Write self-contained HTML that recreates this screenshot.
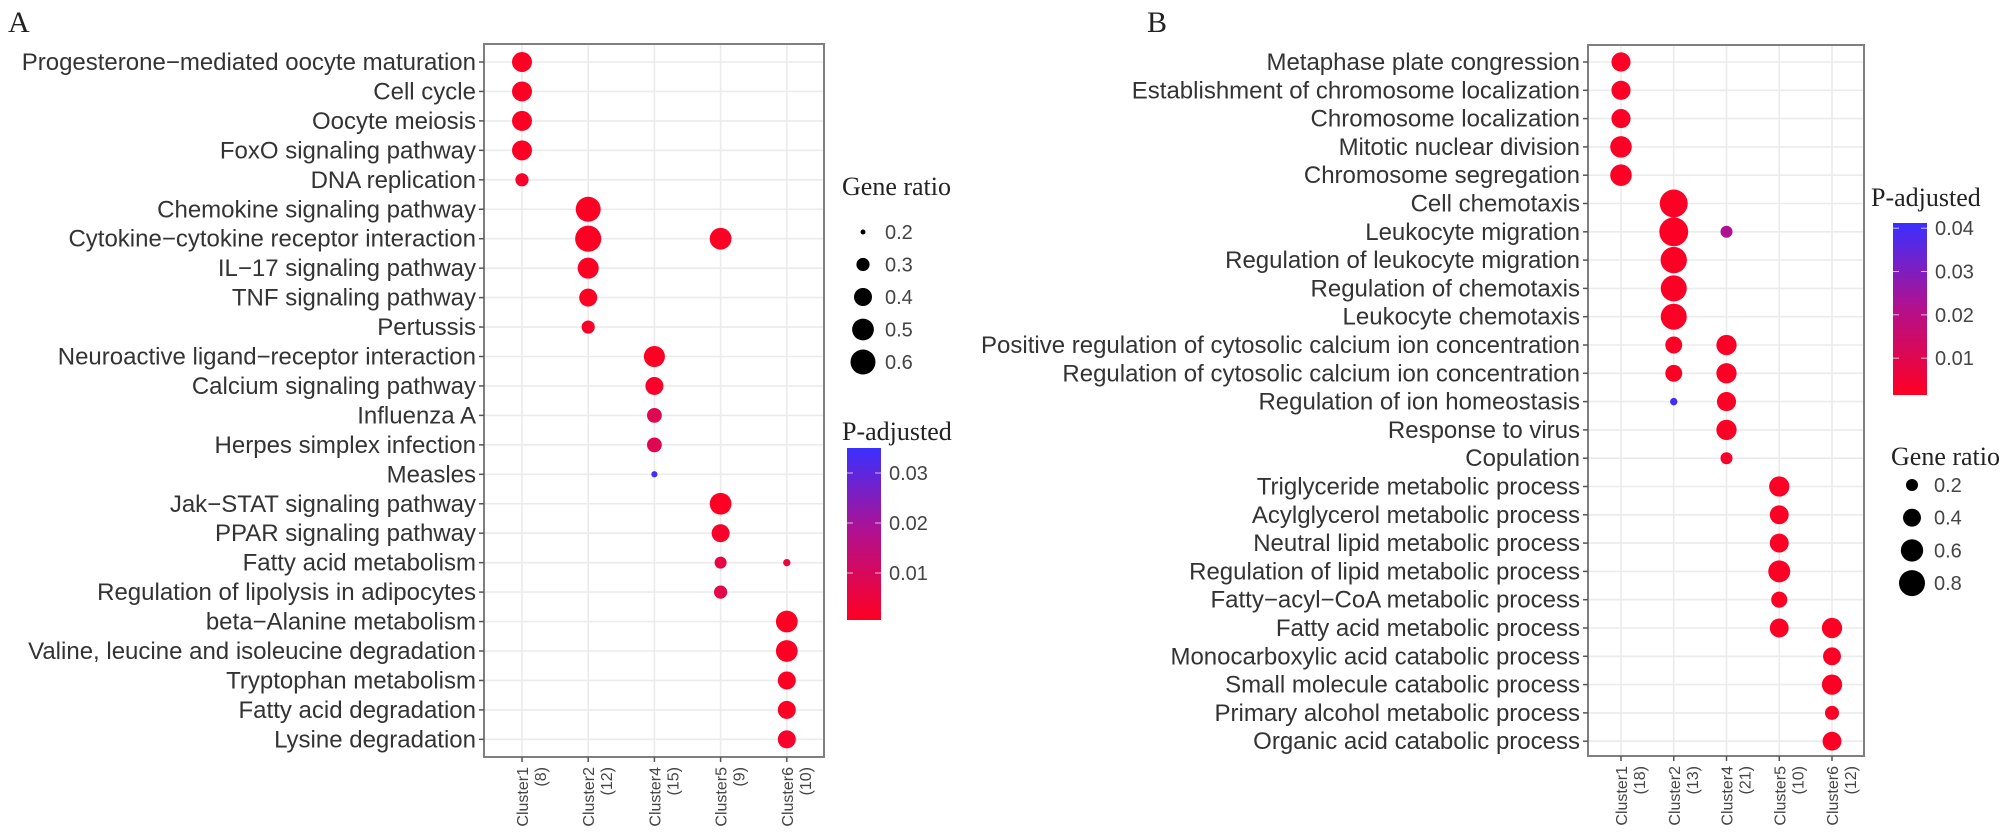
<!DOCTYPE html>
<html><head><meta charset="utf-8"><style>
html,body{margin:0;padding:0;background:#fff;}
svg{display:block;}
</style></head><body>
<svg id="chart" width="2008" height="839" xmlns="http://www.w3.org/2000/svg" font-family="Liberation Sans, sans-serif">
<rect width="2008" height="839" fill="#fff"/>
<text x="8" y="32" font-family="Liberation Serif, serif" font-size="30" fill="#222">A</text>
<text x="1147" y="32" font-family="Liberation Serif, serif" font-size="30" fill="#222">B</text>
<defs>
<linearGradient id="cbA" x1="0" y1="1" x2="0" y2="0"><stop offset="0" stop-color="#ff0022"/><stop offset="0.5" stop-color="#b4108c"/><stop offset="1" stop-color="#3a30ff"/></linearGradient>
<linearGradient id="cbB" x1="0" y1="1" x2="0" y2="0"><stop offset="0" stop-color="#ff0022"/><stop offset="0.5" stop-color="#b4108c"/><stop offset="1" stop-color="#3a30ff"/></linearGradient>
</defs>
</svg>
<script>
// ---- Panel A data ----
const aTerms = ["Progesterone−mediated oocyte maturation","Cell cycle","Oocyte meiosis","FoxO signaling pathway","DNA replication","Chemokine signaling pathway","Cytokine−cytokine receptor interaction","IL−17 signaling pathway","TNF signaling pathway","Pertussis","Neuroactive ligand−receptor interaction","Calcium signaling pathway","Influenza A","Herpes simplex infection","Measles","Jak−STAT signaling pathway","PPAR signaling pathway","Fatty acid metabolism","Regulation of lipolysis in adipocytes","beta−Alanine metabolism","Valine, leucine and isoleucine degradation","Tryptophan metabolism","Fatty acid degradation","Lysine degradation"];
const aClusters = ["Cluster1","Cluster2","Cluster4","Cluster5","Cluster6"];
const aCounts = ["(8)","(12)","(15)","(9)","(10)"];
const aPtTerm = [0,1,2,3,4,5,6,6,7,8,9,10,11,12,13,14,15,16,17,17,18,19,20,21,22,23];
const aPtCluster = [0,0,0,0,0,1,1,3,1,1,1,2,2,2,2,2,3,3,3,4,3,4,4,4,4,4];
const aRatio = [0.45,0.45,0.45,0.45,0.3,0.6,0.64,0.5,0.48,0.4,0.3,0.48,0.4,0.33,0.33,0.21,0.5,0.4,0.28,0.22,0.3,0.5,0.5,0.4,0.4,0.4];
const aPadj = [0.001,0.001,0.001,0.001,0.002,0.001,0.001,0.001,0.001,0.001,0.002,0.001,0.002,0.008,0.008,0.034,0.001,0.002,0.006,0.005,0.007,0.001,0.001,0.001,0.001,0.002];
const aSizeBreaks = [0.2,0.3,0.4,0.5,0.6];
const aColorTicks = [0.01,0.02,0.03];
// ---- Panel B data ----
const bTerms = ["Metaphase plate congression","Establishment of chromosome localization","Chromosome localization","Mitotic nuclear division","Chromosome segregation","Cell chemotaxis","Leukocyte migration","Regulation of leukocyte migration","Regulation of chemotaxis","Leukocyte chemotaxis","Positive regulation of cytosolic calcium ion concentration","Regulation of cytosolic calcium ion concentration","Regulation of ion homeostasis","Response to virus","Copulation","Triglyceride metabolic process","Acylglycerol metabolic process","Neutral lipid metabolic process","Regulation of lipid metabolic process","Fatty−acyl−CoA metabolic process","Fatty acid metabolic process","Monocarboxylic acid catabolic process","Small molecule catabolic process","Primary alcohol metabolic process","Organic acid catabolic process"];
const bClusters = ["Cluster1","Cluster2","Cluster4","Cluster5","Cluster6"];
const bCounts = ["(18)","(13)","(21)","(10)","(12)"];
const bPtTerm = [0,1,2,3,4,5,6,6,7,8,9,10,10,11,11,12,12,13,14,15,16,17,18,19,20,20,21,22,23,24];
const bPtCluster = [0,0,0,0,0,1,1,2,1,1,1,1,2,1,2,1,2,2,2,3,3,3,3,3,3,4,4,4,4,4];
const bRatio = [0.45,0.45,0.45,0.56,0.56,0.92,0.98,0.2,0.82,0.8,0.8,0.36,0.5,0.36,0.5,0.1,0.45,0.5,0.2,0.5,0.44,0.44,0.58,0.33,0.44,0.5,0.4,0.5,0.26,0.44];
const bPadj = [0.002,0.002,0.002,0.002,0.002,0.002,0.002,0.022,0.002,0.002,0.002,0.002,0.002,0.002,0.002,0.04,0.002,0.002,0.003,0.002,0.002,0.002,0.002,0.002,0.002,0.002,0.002,0.002,0.002,0.002];
const bSizeBreaks = [0.2,0.4,0.6,0.8];
const bColorTicks = [0.01,0.02,0.03,0.04];

const NS = "http://www.w3.org/2000/svg";
const svg = document.getElementById('chart');
function mk(tag, attrs, parent){ const e=document.createElementNS(NS,tag); for(const k in attrs) e.setAttribute(k,attrs[k]); (parent||svg).appendChild(e); return e; }
function hex(c){return [parseInt(c.slice(1,3),16),parseInt(c.slice(3,5),16),parseInt(c.slice(5,7),16)];}
function colorAt(t){
  t=Math.max(0,Math.min(1,t));
  const stops=[[0,'#ff0022'],[0.5,'#b4108c'],[1,'#3a30ff']];
  let i=t<=0.5?0:1; const a=stops[i],b=stops[i+1]; const u=(t-a[0])/(b[0]-a[0]);
  const A=hex(a[1]),B=hex(b[1]);
  return 'rgb('+A.map((v,k)=>Math.round(v+(B[k]-v)*u)).join(',')+')';
}

function panel(cfg){
  const {terms,clusters,counts,ptTerm,ptCluster,ratio,padj,left,right,top,bottom,row0,rowStep,col0,colStep,rScale,pScale,prefix}=cfg;
  const yPos = i => row0 + i*rowStep;
  const xPos = j => col0 + j*colStep;
  const g = mk('g',{});
  
  
  mk('rect',{x:left,y:top,width:right-left,height:bottom-top,fill:'#fff'},g);
  terms.forEach((t,i)=>{
    const l=mk('line',{x1:left,x2:right,y1:yPos(i),y2:yPos(i),stroke:'#ebebeb','stroke-width':1.6},g);
    
    
  });
  clusters.forEach((c,j)=>{
    const l=mk('line',{x1:xPos(j),x2:xPos(j),y1:top,y2:bottom,stroke:'#ebebeb','stroke-width':1.6},g);
    
    
  });
  const fr=mk('rect',{x:left,y:top,width:right-left,height:bottom-top,fill:'none',stroke:'#7f7f7f','stroke-width':2},g);
  
  
  terms.forEach((t,i)=>{
    mk('line',{x1:left-5,x2:left,y1:yPos(i),y2:yPos(i),stroke:'#555','stroke-width':1.5},g);
    const tx=mk('text',{x:left-8,y:yPos(i)+8,'text-anchor':'end','font-size':24,fill:'#333'},g);
    tx.textContent=t;
    
    
  });
  clusters.forEach((c,j)=>{
    const x=xPos(j);
    mk('line',{x1:x,x2:x,y1:bottom,y2:bottom+5,stroke:'#555','stroke-width':1.5},g);
    const t1=mk('text',{x:0,y:0,'text-anchor':'end','font-size':16,fill:'#444',transform:'translate('+(x+6)+','+(bottom+10)+') rotate(-90)'},g);
    t1.textContent=c;
    
    
    const t2=mk('text',{x:0,y:0,'text-anchor':'end','font-size':16,fill:'#444',transform:'translate('+(x+24)+','+(bottom+10)+') rotate(-90)'},g);
    t2.textContent=counts[j];
    
    
  });
  ptTerm.forEach((ti,k)=>{
    const c=mk('circle',{cx:xPos(ptCluster[k]),cy:yPos(ti),r:rScale(ratio[k]),fill:colorAt(pScale(padj[k]))},g);
    
    
  });
}

const rA = g => Math.sqrt(Math.max(2, 6 + (g-0.2)*375));
const pA = p => (p-0.0006)/(0.035-0.0006);
const rB = g => Math.sqrt(Math.max(8, 36 + (g-0.2)*222));
const pB = p => (p-0.0015)/(0.0412-0.0015);

panel({terms:aTerms,clusters:aClusters,counts:aCounts,ptTerm:aPtTerm,ptCluster:aPtCluster,ratio:aRatio,padj:aPadj,
  left:484,right:824,top:44,bottom:757,row0:62,rowStep:29.45,col0:522,colStep:66.2,rScale:rA,pScale:pA,prefix:'panel-a'});
panel({terms:bTerms,clusters:bClusters,counts:bCounts,ptTerm:bPtTerm,ptCluster:bPtCluster,ratio:bRatio,padj:bPadj,
  left:1588,right:1864,top:45,bottom:756,row0:62,rowStep:28.3,col0:1621,colStep:52.75,rScale:rB,pScale:pB,prefix:'panel-b'});

// ---- Legends ----
function sizeLegend(breaks, rScale, x, titleY, y0, step, prefix){
  const t=mk('text',{x:x-21,y:titleY,'font-family':'Liberation Serif, serif','font-size':26,fill:'#222'});
  t.textContent='Gene ratio';
  
  
  breaks.forEach((b,i)=>{
    const c=mk('circle',{cx:x,cy:y0+i*step,r:rScale(b),fill:'#000'});
    
    
    const l=mk('text',{x:x+22,y:y0+i*step+7,'font-size':20,fill:'#444'});
    l.textContent=b.toFixed(1);
    
    
  });
}
function colorLegend(ticks, pScale, x0, x1, yTop, yBot, titleX, titleY, grad, prefix){
  const t=mk('text',{x:titleX,y:titleY,'font-family':'Liberation Serif, serif','font-size':26,fill:'#222'});
  t.textContent='P-adjusted';
  
  
  const r=mk('rect',{x:x0,y:yTop,width:x1-x0,height:yBot-yTop,fill:'url(#'+grad+')'});
  
  
  ticks.forEach(v=>{
    const y=yBot-(yBot-yTop)*pScale(v);
    mk('line',{x1:x0,x2:x0+6,y1:y,y2:y,stroke:'#fff','stroke-width':1,opacity:0.7});
    mk('line',{x1:x1-6,x2:x1,y1:y,y2:y,stroke:'#fff','stroke-width':1,opacity:0.7});
    const l=mk('text',{x:x1+8,y:y+7,'font-size':20,fill:'#444'});
    l.textContent=v.toFixed(2);
    
    
  });
}
sizeLegend(aSizeBreaks, rA, 863, 195, 232, 32.5, 'panel-a');
colorLegend(aColorTicks, pA, 847, 881, 448, 620, 842, 440, 'cbA', 'panel-a');
colorLegend(bColorTicks, pB, 1893, 1927, 223, 395, 1871, 206, 'cbB', 'panel-b');
sizeLegend(bSizeBreaks, rB, 1912, 465, 485, 32.7, 'panel-b');
</script>
</body></html>
